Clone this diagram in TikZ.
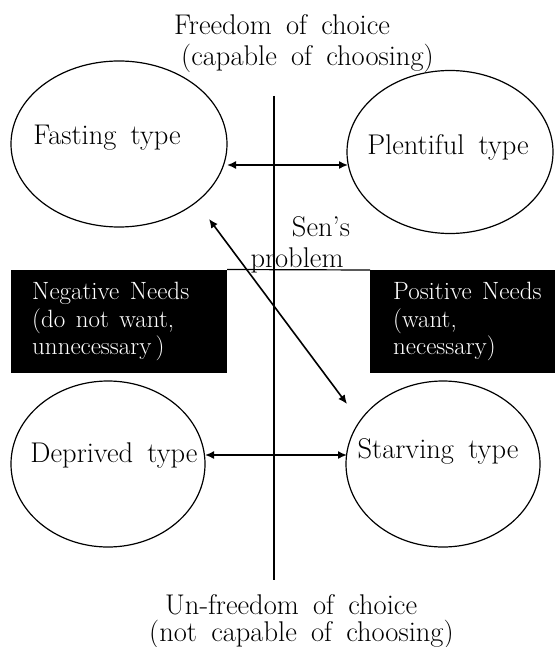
\documentclass[tikz,border=0pt]{standalone}
\usetikzlibrary{shapes.geometric,arrows.meta}
\newcommand\lblfont{\fontsize{28.5}{32}\selectfont\spaceskip 0.5em\relax}
\newcommand\needfont{\fontsize{25}{27.5}\selectfont\spaceskip 0.42em\relax}
\begin{document}
\begin{tikzpicture}[x=1pt,y=-1pt,
  font=\lblfont,
  oval/.style={draw, line width=1.2pt, ellipse, inner sep=0pt},
  lbl/.style={inner sep=0pt},
  needbox/.style={fill=black, draw=none, anchor=north west, inner sep=0pt},
  needtext/.style={text=white, anchor=north west, inner sep=0pt, align=left, font=\needfont},
  axis/.style={line width=1.4pt},
  twoway/.style={{Latex[length=9pt,width=8pt]}-{Latex[length=9pt,width=8pt]}, line width=1.6pt}]
\useasboundingbox (0,0) rectangle (555,647);

% ellipses
\node[oval, minimum width=216pt, minimum height=166pt] (fast) at (119,144) {};
\node[oval, minimum width=206pt, minimum height=163pt] (plen) at (450,152) {};
\node[oval, minimum width=194pt, minimum height=166pt] (depr) at (108,464) {};
\node[oval, minimum width=194pt, minimum height=166pt] (starv) at (443,464) {};

% ellipse labels
\node[lbl] (fastl) at (107,138) {Fasting type};
\node[lbl] (plenl) at (448,147) {Plentiful type};
\node[lbl] (deprl) at (114,455) {Deprived type};
\node[lbl] (starvl) at (438,451) {Starving type};

% axis labels
\node[lbl] (free1) at (282,25) {Freedom of choice};
\node[lbl, anchor=west] (free2) at (181,58) {(capable of choosing)};
\node[lbl, anchor=base west] (unfree1) at (165,614) {Un-freedom of choice};
\node[lbl, anchor=base west] (unfree2) at (149,641) {(not capable of choosing)};

% need boxes
\node[needbox, minimum width=216pt, minimum height=103pt] (negbox) at (10.6,269.5) {};
\node[needbox, minimum width=185pt, minimum height=103pt] (posbox) at (370,270) {};
\node[needtext] (negtext) at (32,282) {Negative Needs\\(do not want,\\unnecessary\,)};
\node[needtext] (postext) at (393,282) {Positive Needs\\(want,\\necessary)};
\draw[line width=1.2pt] (negbox.north east) -- (posbox.north west);

% vertical axis
\coordinate (vtop) at (274,96);
\coordinate (vbot) at (274,580);
\draw[axis] (vtop) -- (vbot);

% Sen's problem
\node[lbl] (sen1) at (321,227) {Sen’s};
\node[lbl] (sen2) at (297,260) {problem};

% arrows
\coordinate (a1) at (227,165);
\coordinate (b1) at (348,165);
\draw[twoway] (a1) -- (b1);
\coordinate (a2) at (205,455);
\coordinate (b2) at (347,455);
\draw[twoway] (a2) -- (b2);
\coordinate (d1) at (209,219);
\coordinate (d2) at (347,404);
\draw[twoway] (d1) -- (d2);
\end{tikzpicture}
\end{document}
